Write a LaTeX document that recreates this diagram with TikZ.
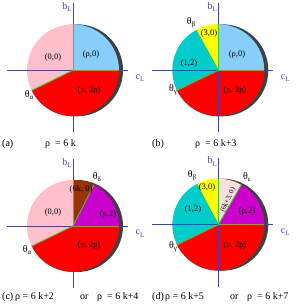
\documentclass[tikz,border=0pt]{standalone}
\usepackage{fontspec}
\setmainfont{Liberation Serif}
\definecolor{axisblue}{RGB}{64,64,192}
\definecolor{skyb}{RGB}{135,206,250}
\definecolor{pinkc}{RGB}{255,192,203}
\definecolor{redc}{RGB}{255,0,0}
\definecolor{yel}{RGB}{255,255,0}
\definecolor{cyanc}{RGB}{0,204,204}
\definecolor{mag}{RGB}{204,0,204}
\definecolor{brownc}{RGB}{153,51,0}
\definecolor{lpink}{RGB}{255,222,222}
\definecolor{grn}{RGB}{60,200,60}
\definecolor{shad}{RGB}{64,64,64}
\newcommand\mysector[3]{\fill[#1] (0,0) -- (#2:46) arc[start angle=#2, end angle=#3, radius=46] -- cycle;}
\newcommand\myedge[1]{\draw[grn, line width=0.9pt] (0,0) -- (#1:46);}
\newcommand\mysub[1]{\raisebox{-0.5ex}{\fontsize{7}{7}\selectfont #1}}
\tikzset{
  seclab/.style={font=\fontsize{8.5}{9}\selectfont, inner sep=0pt},
  anglab/.style={font=\fontsize{10}{10}\selectfont, inner sep=0pt},
  axlab/.style={font=\fontsize{10}{10}\selectfont, text=axisblue, inner sep=0pt},
  caplab/.style={font=\fontsize{10}{10}\selectfont, inner sep=0pt, anchor=base west},
  axisline/.style={axisblue, line width=0.8pt},
  shadow/.style={fill=shad}
}
\newcommand\myaxes[1]{%
  \draw[axisline] (-66,0) -- (55,0);
  \draw[axisline] (0,-62) -- (0,67);
  \node[axlab] (#1b) at (-6,63.3) {b\mysub{L}};
  \node[axlab] (#1c) at (67,-7.7) {c\mysub{L}};}
\begin{document}
\begin{tikzpicture}[x=1pt,y=1pt]
\useasboundingbox (0,0) rectangle (300,-304);
% ---------- (a)
\begin{scope}[shift={(73,-70.3)}]
  \fill[shadow] (4,0) circle (46);
  \mysector{skyb}{0}{90}
  \mysector{pinkc}{90}{206}
  \mysector{redc}{206}{360}
  \myaxes{a}
  \myedge{0}\myedge{90}\myedge{206}
  \node[seclab] (a1) at (-20,13.3) {(0,0)};
  \node[seclab] (a2) at (18,16.3) {(ρ,0)};
  \node[seclab] (a3) at (16,-19.7) {(ρ, 2ρ)};
  \node[anglab] (a4) at (-44,-24.7) {θ\mysub{α}};
\end{scope}
% ---------- (b)
\begin{scope}[shift={(218.3,-70.3)}]
  \fill[shadow] (4,0) circle (46);
  \mysector{skyb}{0}{90}
  \mysector{yel}{90}{119}
  \mysector{cyanc}{119}{206}
  \mysector{redc}{206}{360}
  \myaxes{b}
  \myedge{0}\myedge{90}\myedge{119}\myedge{206}
  \node[seclab] (b1) at (-9.3,37.3) {(3,0)};
  \node[seclab] (b2) at (-29.3,7.3) {(1,2)};
  \node[seclab] (b3) at (18.7,16.3) {(ρ,0)};
  \node[seclab] (b4) at (16.7,-19.7) {(ρ, 2ρ)};
  \node[anglab] (b5) at (-27.3,47.3) {θ\mysub{β}};
  \node[anglab] (b6) at (-45.3,-19.7) {θ\mysub{γ}};
\end{scope}
% ---------- (c)
\begin{scope}[shift={(73,-226)}]
  \fill[shadow] (4,0) circle (46);
  \mysector{mag}{0}{63}
  \mysector{brownc}{63}{90}
  \mysector{pinkc}{90}{206}
  \mysector{redc}{206}{360}
  \myaxes{c}
  \myedge{0}\myedge{63}\myedge{90}\myedge{206}
  \node[seclab] (c1) at (8,37) {(6k, 0)};
  \node[seclab] (c2) at (35,12) {(ρ,2)};
  \node[seclab] (c3) at (-20,14) {(0,0)};
  \node[seclab] (c4) at (16,-19) {(ρ, 2ρ)};
  \node[anglab] (c5) at (24,49) {θ\mysub{δ}};
  \node[anglab] (c6) at (-46,-24) {θ\mysub{α}};
\end{scope}
% ---------- (d)
\begin{scope}[shift={(218.3,-224.7)}]
  \fill[shadow] (4,0) circle (46);
  \mysector{mag}{0}{60}
  \mysector{lpink}{60}{90}
  \mysector{yel}{90}{118}
  \mysector{cyanc}{118}{206}
  \mysector{redc}{206}{360}
  \myaxes{d}
  \myedge{0}\myedge{60}\myedge{90}\myedge{118}\myedge{206}
  \node[seclab] (d1) at (-11.3,37.7) {(3,0)};
  \node[seclab] (d2) at (-25.3,15.7) {(1,2)};
  \node[seclab, font=\fontsize{7}{7}\selectfont, rotate=65] (d3) at (9.7,24.7) {(6k+3, 0)};
  \node[seclab] (d4) at (28.7,13.7) {(ρ,2)};
  \node[seclab] (d5) at (16.7,-20.3) {(ρ, 2ρ)};
  \node[anglab] (d6) at (-26.3,48.7) {θ\mysub{β}};
  \node[anglab] (d7) at (28.7,47.7) {θ\mysub{ε}};
  \node[anglab] (d8) at (-45.3,-22.3) {θ\mysub{γ}};
\end{scope}
% ---------- captions
\node[caplab] (ca1) at (2,-146.5) {(a)};
\node[caplab] (ca2) at (45,-146.5) {ρ\ \ = 6 k};
\node[caplab] (cb1) at (152,-146.5) {(b)};
\node[caplab] (cb2) at (195,-146.5) {ρ\ \ = 6 k+3};
\node[caplab] (cc1) at (2,-299) {(c)};
\node[caplab] (cc2) at (15,-299) {ρ = 6 k+2};
\node[caplab] (cc3) at (80,-299) {or};
\node[caplab] (cc4) at (97,-299) {ρ\ \ = 6 k+4};
\node[caplab] (cd1) at (152,-299) {(d)};
\node[caplab] (cd2) at (165,-299) {ρ = 6 k+5};
\node[caplab] (cd3) at (230,-299) {or};
\node[caplab] (cd4) at (247,-299) {ρ\ \ = 6 k+7};
\end{tikzpicture}
\end{document}
